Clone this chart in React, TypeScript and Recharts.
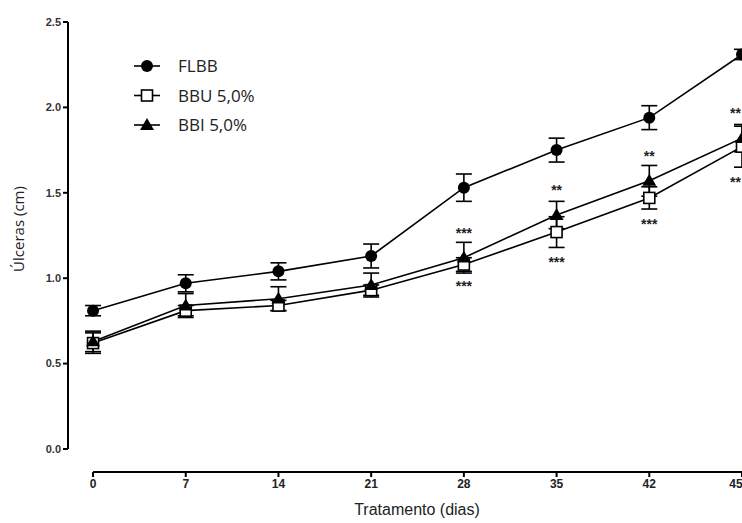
import {
  LineChart,
  Line,
  XAxis,
  YAxis,
  ErrorBar,
  LabelList,
  ReferenceLine,
} from 'recharts';

const days = [0, 7, 14, 21, 28, 35, 42, 49];
const xTickLabels = ['0', '7', '14', '21', '28', '35', '42', '45'];
const yTicks = [0, 0.5, 1, 1.5, 2, 2.5];

const flbb = [0.81, 0.97, 1.04, 1.13, 1.53, 1.75, 1.94, 2.31];
const flbbErr = [0.03, 0.05, 0.05, 0.07, 0.08, 0.07, 0.07, 0.03];
const bbu = [0.62, 0.81, 0.84, 0.93, 1.08, 1.27, 1.47, 1.77];
const bbuErr = [0.06, 0.03, 0.03, 0.03, 0.04, 0.09, 0.065, 0.12];
const bbi = [0.63, 0.84, 0.88, 0.96, 1.12, 1.37, 1.57, 1.82];
const bbiErr = [0.06, 0.07, 0.07, 0.07, 0.09, 0.08, 0.09, 0.08];

const sigAbove = ['', '', '', '', '***', '**', '**', '**'];
const sigBelow = ['', '', '', '', '***', '***', '***', '**'];

const data = days.map((d, i) => ({
  day: d,
  flbb: flbb[i],
  flbbErr: flbbErr[i],
  bbu: bbu[i],
  bbuErr: bbuErr[i],
  bbi: bbi[i],
  bbiErr: bbiErr[i],
  sigAbove: sigAbove[i],
  sigBelow: sigBelow[i],
}));

const X_MIN = -1.89;
const Y_MIN = -0.1347;
const PX_PER_UNIT = 170.8;

const tickFont = {
  fontFamily: '"Liberation Sans Narrow", "Liberation Sans", Arial, sans-serif',
  fontWeight: 700,
};

const Triangle = ({ cx, cy, size = 7 }: any) => (
  <polygon
    points={`${cx},${cy - size} ${cx + size},${cy + size * 0.7} ${cx - size},${cy + size * 0.7}`}
    fill="#000"
  />
);

const BBIDot = (props: any) => <Triangle cx={props.cx} cy={props.cy} key={props.index} />;

const BBUDot = ({ cx, cy, index }: any) => (
  <rect key={index} x={cx - 5.5} y={cy - 5.5} width={11} height={11} fill="#fff" stroke="#000" strokeWidth={1.6} />
);

const FLBBDot = ({ cx, cy, index }: any) => <circle key={index} cx={cx} cy={cy} r={6} fill="#000" />;

const legendItems = [
  { name: 'FLBB', kind: 'circle' },
  { name: 'BBU 5,0%', kind: 'square' },
  { name: 'BBI 5,0%', kind: 'triangle' },
];

function LegendBox() {
  return (
    <svg width={180} height={90} style={{ position: 'absolute', left: 130, top: 54 }}>
      {legendItems.map((it, i) => {
        const y = 12 + i * 29.5;
        return (
          <g key={it.name}>
            <line x1={4} x2={30} y1={y} y2={y} stroke="#000" strokeWidth={1.6} />
            {it.kind === 'circle' && <circle cx={17} cy={y} r={6} fill="#000" />}
            {it.kind === 'square' && (
              <rect x={11.5} y={y - 5.5} width={11} height={11} fill="#fff" stroke="#000" strokeWidth={1.6} />
            )}
            {it.kind === 'triangle' && <Triangle cx={17} cy={y} />}
            <text
              x={48}
              y={y + 6}
              fontSize={17}
              fontFamily='"Open Sans", "DejaVu Sans", sans-serif'
              fill="#222"
            >
              {it.name}
            </text>
          </g>
        );
      })}
    </svg>
  );
}

// keep the stars inside the picture at the right edge
const starText = (x: number, y: number, value: string) => {
  const nearEdge = x > 730;
  return (
    <text
      x={nearEdge ? 741 : x}
      y={y}
      textAnchor={nearEdge ? 'end' : 'middle'}
      fontSize={14}
      fontWeight={700}
      fill="#222"
      fontFamily="Arial, sans-serif"
    >
      {value}
    </text>
  );
};

const sigAboveLabel = (props: any) => {
  const { x, y, value } = props;
  if (!value) return null;
  return starText(x, y - 20, value);
};

const sigBelowLabel = (props: any) => {
  const { x, y, value, index } = props;
  if (!value) return null;
  const off = bbuErr[index] * PX_PER_UNIT + 20;
  return starText(x, y + off, value);
};

export default function App() {
  return (
    <div style={{ position: 'absolute', left: 0, top: 0, width: 742, height: 523, background: '#fff' }}>
      <LineChart width={742} height={523} data={data} margin={{ top: 22, right: 0, bottom: 0, left: 20 }}>
        <XAxis
          type="number"
          dataKey="day"
          domain={[X_MIN, 49]}
          ticks={days}
          tickFormatter={(v: number) => xTickLabels[days.indexOf(v)]}
          axisLine={false}
          tickLine={{ stroke: '#000', strokeWidth: 2 }}
          tickSize={5}
          height={51}
          tick={{ ...tickFont, fontSize: 12, fill: '#222' }}
          label={{
            content: () => (
              <text
                x={417}
                y={515}
                textAnchor="middle"
                fontSize={16}
                fill="#222"
                fontFamily='"Liberation Sans Narrow", "Liberation Sans", sans-serif'
              >
                Tratamento (dias)
              </text>
            ),
          }}
        />
        <YAxis
          type="number"
          domain={[Y_MIN, 2.5]}
          ticks={yTicks}
          tickFormatter={(v: number) => v.toFixed(1)}
          axisLine={false}
          tickLine={{ stroke: '#000', strokeWidth: 2 }}
          tickSize={5}
          width={48}
          tick={{ ...tickFont, fontSize: 11, fill: '#333' }}
          label={{
            content: () => (
              <text
                x={24}
                y={229}
                transform="rotate(-90 24 229)"
                textAnchor="middle"
                fontSize={15}
                fill="#222"
                fontFamily='"Open Sans", "DejaVu Sans", sans-serif'
              >
                Úlceras (cm)
              </text>
            ),
          }}
        />
        <ReferenceLine
          segment={[
            { x: X_MIN, y: 0 },
            { x: X_MIN, y: 2.5 },
          ]}
          stroke="#000"
          strokeWidth={2}
          ifOverflow="visible"
        />
        <ReferenceLine
          segment={[
            { x: 0, y: Y_MIN },
            { x: 49, y: Y_MIN },
          ]}
          stroke="#000"
          strokeWidth={2}
          ifOverflow="visible"
        />
        <Line
          dataKey="bbu"
          stroke="#000"
          strokeWidth={1.6}
          dot={BBUDot}
          activeDot={false}
          isAnimationActive={false}
        >
          <ErrorBar dataKey="bbuErr" width={8} stroke="#000" strokeWidth={1.6} />
          <LabelList dataKey="sigBelow" content={sigBelowLabel} />
        </Line>
        <Line
          dataKey="bbi"
          stroke="#000"
          strokeWidth={1.6}
          dot={BBIDot}
          activeDot={false}
          isAnimationActive={false}
        >
          <ErrorBar dataKey="bbiErr" width={8} stroke="#000" strokeWidth={1.6} />
          <LabelList dataKey="sigAbove" content={sigAboveLabel} />
        </Line>
        <Line
          dataKey="flbb"
          stroke="#000"
          strokeWidth={1.6}
          dot={FLBBDot}
          activeDot={false}
          isAnimationActive={false}
        >
          <ErrorBar dataKey="flbbErr" width={8} stroke="#000" strokeWidth={1.6} />
        </Line>
      </LineChart>
      <LegendBox />
    </div>
  );
}
